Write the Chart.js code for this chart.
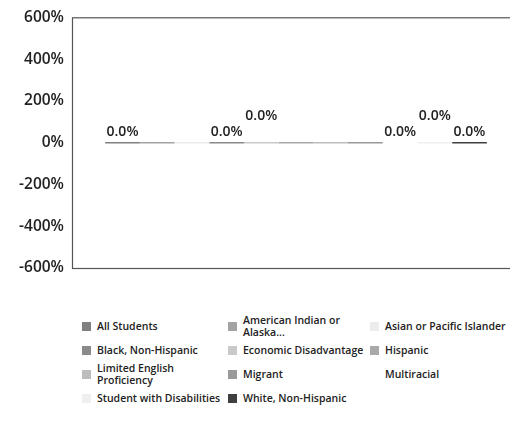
<!DOCTYPE html>
<html>
<head>
<meta charset="utf-8">
<script src="https://cdn.jsdelivr.net/npm/chart.js@4.4.1/dist/chart.umd.min.js"></script>
<style>
  html, body { margin: 0; padding: 0; background: #fff; }
  #wrap { width: 510px; height: 425px; overflow: hidden; position: relative; }
  #box { width: 520px; height: 290px; position: absolute; left: 0; top: 0; }
  #legend { position: absolute; left: 82px; top: 314px; width: 428px;
    font-family: "Open Sans", sans-serif; font-weight: 600; font-size: 10.5px; color: #222; line-height: 12px; }
  .item { position: absolute; display: flex; align-items: center; white-space: nowrap; }
  .sw { width: 9px; height: 9px; margin-right: 6px; flex: none; }
</style>
</head>
<body>
<div id="wrap">
  <div id="box"><canvas id="chart"></canvas></div>
  <div id="legend"></div>
</div>
<script>
// Groups (one bar each) and their values
const groups = [
  'All Students', 'American Indian or Alaska...', 'Asian or Pacific Islander',
  'Black, Non-Hispanic', 'Economic Disadvantage', 'Hispanic',
  'Limited English Proficiency', 'Migrant', 'Multiracial',
  'Student with Disabilities', 'White, Non-Hispanic'
];
const values = [0, 0, 0, 0, 0, 0, 0, 0, 0, 0, 0];
const yTicks = [-600, -400, -200, 0, 200, 400, 600];

const COLORS = ['#808080', '#a3a3a3', '#ececec', '#8a8a8a', '#c9c9c9', '#a9a9a9',
  '#bdbdbd', '#9a9a9a', '#ffffff', '#efefef', '#3f3f3f'];

// legend text with the line breaks seen in the picture
const legendText = {
  'American Indian or Alaska...': 'American Indian or<br>Alaska...',
  'Limited English Proficiency': 'Limited English<br>Proficiency'
};

// which bar labels are visible, and lifted (0 = normal, 1 = raised)
const labelLift = [0, null, null, 0, 1, null, null, null, 0, 1, 0];

const frame = {
  id: 'frame',
  afterDraw(chart) {
    const { ctx, chartArea: a } = chart;
    ctx.save();
    ctx.strokeStyle = '#555';
    ctx.lineWidth = 1.2;
    ctx.strokeRect(a.left + 0.5, a.top + 0.5, a.right - a.left, a.bottom - a.top);
    ctx.restore();
  }
};

const barLabels = {
  id: 'barLabels',
  afterDatasetsDraw(chart) {
    const { ctx } = chart;
    ctx.save();
    ctx.font = '600 14px "Open Sans", sans-serif';
    ctx.fillStyle = '#222';
    ctx.textAlign = 'center';
    ctx.textBaseline = 'bottom';
    chart.data.datasets.forEach((ds, i) => {
      if (labelLift[i] === null) return;
      const bar = chart.getDatasetMeta(i).data[0];
      const y = bar.y - 4 - labelLift[i] * 16;
      ctx.fillText(ds.data[0].toFixed(1) + '%', bar.x, y);
    });
    ctx.restore();
  }
};

const chart = new Chart(document.getElementById('chart'), {
  type: 'bar',
  data: {
    labels: [''],
    datasets: groups.map((g, i) => ({
      label: g,
      data: [values[i]],
      backgroundColor: COLORS[i],
      minBarLength: 1.5,
      barPercentage: 1,
      categoryPercentage: 0.852
    }))
  },
  options: {
    responsive: true,
    maintainAspectRatio: false,
    animation: false,
    layout: { padding: { top: 17, bottom: 22, right: 0, left: 0 } },
    plugins: { legend: { display: false }, tooltip: { enabled: false } },
    scales: {
      x: { display: false },
      y: {
        min: -600, max: 600,
        afterBuildTicks: s => { s.ticks = yTicks.map(v => ({ value: v })); },
        afterFit: s => { s.width = 72; },
        grid: { display: false, drawTicks: false },
        border: { display: false },
        ticks: {
          color: '#222',
          padding: 8,
          font: { family: '"Open Sans", sans-serif', size: 15.5, weight: '600' },
          callback: v => v + '%'
        }
      }
    }
  },
  plugins: [frame, barLabels]
});

// legend: 3 columns x 4 rows
const colX = [0, 146, 288];
const rowY = [0, 24, 48, 72];
const legend = document.getElementById('legend');
groups.forEach((g, i) => {
  const el = document.createElement('div');
  el.className = 'item';
  el.style.left = colX[i % 3] + 'px';
  el.style.top = rowY[Math.floor(i / 3)] + 'px';
  el.style.height = '24px';
  el.innerHTML = '<span class="sw" style="background:' + COLORS[i] + '"></span><span>' + (legendText[g] || g) + '</span>';
  legend.appendChild(el);
});
</script>
</body>
</html>
